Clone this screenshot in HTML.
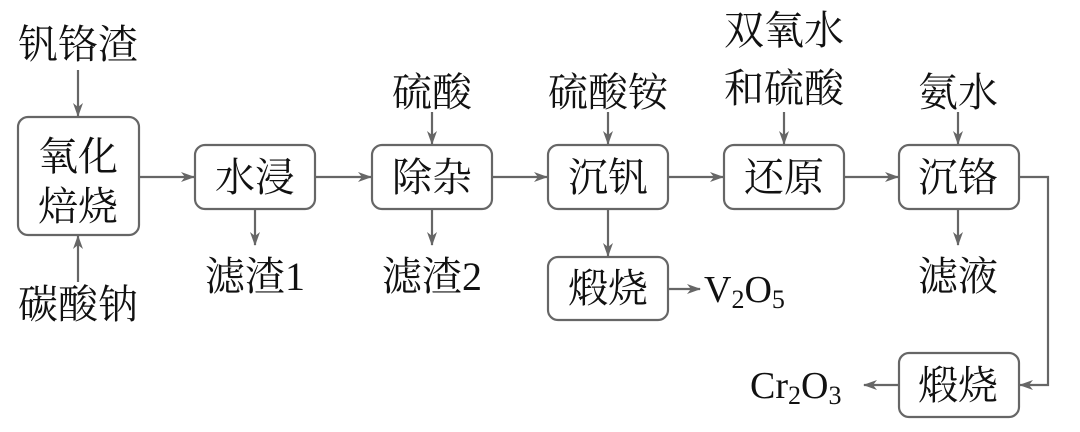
<!DOCTYPE html>
<html><head><meta charset="utf-8"><style>
html,body{margin:0;padding:0;background:#fff;}
svg{display:block;}
text{font-family:"Liberation Serif","Noto Serif CJK SC","Noto Serif CJK JP",serif;font-size:40px;fill:#111;}
</style></head><body>
<svg width="1080" height="432" viewBox="0 0 1080 432" xmlns="http://www.w3.org/2000/svg">
<defs><marker id="a" markerWidth="14" markerHeight="10" refX="13" refY="5" orient="auto" markerUnits="userSpaceOnUse"><path d="M0,0 L14,5 L0,10 L4,5 Z" fill="#666"/></marker></defs>
<g fill="none" stroke="#666" stroke-width="2.2">
<rect x="18" y="117" width="121" height="118" rx="10"/>
<rect x="195" y="145" width="120" height="64" rx="10"/>
<rect x="372" y="145" width="120" height="64" rx="10"/>
<rect x="548" y="145" width="120" height="64" rx="10"/>
<rect x="724" y="145" width="120" height="64" rx="10"/>
<rect x="899" y="145" width="120" height="64" rx="10"/>
<rect x="548" y="257" width="120" height="63" rx="10"/>
<rect x="899" y="353" width="120" height="64" rx="10"/>
<g marker-end="url(#a)">
<line x1="139" y1="177" x2="194" y2="177"/>
<line x1="315" y1="177" x2="371" y2="177"/>
<line x1="492" y1="177" x2="547" y2="177"/>
<line x1="668" y1="177" x2="723" y2="177"/>
<line x1="844" y1="177" x2="898" y2="177"/>
<line x1="78" y1="70" x2="78" y2="116"/>
<line x1="78" y1="282" x2="78" y2="236"/>
<line x1="432" y1="112" x2="432" y2="144"/>
<line x1="608" y1="112" x2="608" y2="144"/>
<line x1="784" y1="112" x2="784" y2="144"/>
<line x1="958" y1="112" x2="958" y2="144"/>
<line x1="255" y1="209" x2="255" y2="245"/>
<line x1="432" y1="209" x2="432" y2="245"/>
<line x1="608" y1="209" x2="608" y2="256"/>
<line x1="958" y1="209" x2="958" y2="245"/>
<line x1="668" y1="289" x2="700" y2="289"/>
<polyline points="1019,177 1048,177 1048,385 1020,385"/>
<line x1="899" y1="385" x2="864" y2="385"/>
</g></g>
<g text-anchor="middle">
<text x="78" y="58">钒铬渣</text>
<text x="78" y="170">氧化</text>
<text x="78" y="220">焙烧</text>
<text x="78" y="318">碳酸钠</text>
<text x="255" y="191">水浸</text>
<text x="432" y="191">除杂</text>
<text x="608" y="191">沉钒</text>
<text x="784" y="191">还原</text>
<text x="958" y="191">沉铬</text>
<text x="432" y="106">硫酸</text>
<text x="608" y="106">硫酸铵</text>
<text x="784" y="44">双氧水</text>
<text x="784" y="102">和硫酸</text>
<text x="958" y="106">氨水</text>
<text x="255" y="290">滤渣1</text>
<text x="432" y="290">滤渣2</text>
<text x="958" y="290">滤液</text>
<text x="608" y="302">煅烧</text>
<text x="958" y="399">煅烧</text>
</g>
<text x="704" y="302" style="font-size:38px">V<tspan dy="6" style="font-size:26px">2</tspan><tspan dy="-6">O</tspan><tspan dy="6" style="font-size:26px">5</tspan></text>
<text x="750" y="398" style="font-size:38px">Cr<tspan dy="6" style="font-size:26px">2</tspan><tspan dy="-6">O</tspan><tspan dy="6" style="font-size:26px">3</tspan></text>
</svg>
</body></html>
